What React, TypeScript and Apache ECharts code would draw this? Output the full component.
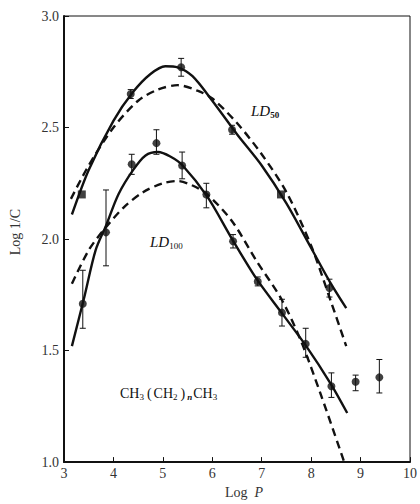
import React, { useEffect, useRef } from "react";
import * as echarts from "echarts";

// LD50 observed points [logP, log1/C]
const ld50Dots: number[][] = [[4.35, 2.65], [5.37, 2.77], [6.40, 2.49], [8.37, 1.78]];
const ld50Squares: number[][] = [[3.36, 2.20], [7.39, 2.20]];
// error bars [logP, low, high]
const ld50Err: number[][] = [[4.35, 2.63, 2.67], [5.37, 2.73, 2.81], [6.40, 2.47, 2.51], [8.37, 1.74, 1.82]];

// LD100 observed points
const ld100Dots: number[][] = [
  [3.38, 1.71], [3.85, 2.03], [4.37, 2.335], [4.87, 2.43], [5.39, 2.33], [5.88, 2.20],
  [6.42, 1.99], [6.92, 1.81], [7.41, 1.67], [7.89, 1.53], [8.41, 1.34], [8.90, 1.36], [9.38, 1.38],
];
const ld100Err: number[][] = [
  [3.38, 1.60, 1.86], [3.85, 1.88, 2.22], [4.37, 2.29, 2.38], [4.87, 2.38, 2.49], [5.39, 2.27, 2.39],
  [5.88, 2.14, 2.25], [6.42, 1.96, 2.02], [6.92, 1.79, 1.83], [7.41, 1.61, 1.73], [7.89, 1.47, 1.60],
  [8.41, 1.29, 1.40], [8.90, 1.32, 1.39], [9.38, 1.31, 1.46],
];

// fitted curves
const ld50Solid: number[][] = [
  [3.16, 2.11], [3.5, 2.31], [4.0, 2.53], [4.4, 2.66], [4.75, 2.74], [5.05, 2.775], [5.3, 2.77],
  [5.6, 2.73], [6.0, 2.62], [6.5, 2.47], [7.0, 2.33], [7.5, 2.16], [8.0, 1.96], [8.4, 1.80], [8.71, 1.69],
];
const ld50Dashed: number[][] = [
  [3.14, 2.18], [3.5, 2.33], [4.0, 2.50], [4.5, 2.62], [4.9, 2.67], [5.3, 2.69], [5.7, 2.665],
  [6.0, 2.63], [6.5, 2.52], [7.0, 2.38], [7.5, 2.21], [8.0, 1.97], [8.4, 1.72], [8.71, 1.52],
];
const ld100Solid: number[][] = [
  [3.16, 1.52], [3.4, 1.73], [3.64, 1.95], [3.85, 2.06], [4.1, 2.20], [4.4, 2.31], [4.65, 2.375],
  [4.9, 2.39], [5.15, 2.37], [5.4, 2.33], [5.9, 2.19], [6.4, 2.00], [6.9, 1.82], [7.4, 1.67],
  [7.9, 1.52], [8.4, 1.35], [8.73, 1.22],
];
const ld100Dashed: number[][] = [
  [3.16, 1.80], [3.5, 1.95], [3.8, 2.04], [4.2, 2.14], [4.6, 2.21], [5.0, 2.25], [5.3, 2.26],
  [5.6, 2.24], [5.9, 2.20], [6.4, 2.08], [6.9, 1.90], [7.4, 1.73], [7.8, 1.54], [8.2, 1.30], [8.67, 1.0],
];

const xTicks = [3, 4, 5, 6, 7, 8, 9, 10];
const yTicks = [1.0, 1.5, 2.0, 2.5, 3.0];

const INK = "#111";
const FONT = "'Liberation Serif', 'DejaVu Serif', serif";

function errSeries(data: number[][]) {
  return {
    type: "custom",
    data,
    z: 3,
    renderItem: (params: any, api: any) => {
      const x = api.value(0);
      const lo = api.coord([x, api.value(1)]);
      const hi = api.coord([x, api.value(2)]);
      const cap = 3;
      const style = { stroke: INK, lineWidth: 1 };
      return {
        type: "group",
        children: [
          { type: "line", shape: { x1: lo[0], y1: lo[1], x2: hi[0], y2: hi[1] }, style },
          { type: "line", shape: { x1: lo[0] - cap, y1: lo[1], x2: lo[0] + cap, y2: lo[1] }, style },
          { type: "line", shape: { x1: hi[0] - cap, y1: hi[1], x2: hi[0] + cap, y2: hi[1] }, style },
        ],
      };
    },
  };
}

function curve(data: number[][], dashed: boolean) {
  return {
    type: "line",
    data,
    smooth: 0.3,
    showSymbol: false,
    z: 2,
    lineStyle: { color: INK, width: 2.4, type: dashed ? [8, 5] : "solid" },
  };
}

export default function App() {
  const ref = useRef<HTMLDivElement>(null);
  useEffect(() => {
    if (!ref.current) return;
    const chart = echarts.init(ref.current, undefined, { renderer: "svg" });
    chart.setOption({
      animation: false,
      backgroundColor: "#fff",
      grid: { left: 60, right: 9, top: 16, bottom: 34, show: true, borderColor: INK, borderWidth: 1 },
      xAxis: {
        type: "value",
        min: xTicks[0],
        max: xTicks[xTicks.length - 1],
        interval: 1,
        splitLine: { show: false },
        axisLine: { lineStyle: { color: INK, width: 2 } },
        axisTick: { inside: true, length: 5, lineStyle: { color: INK } },
        axisLabel: { color: "#333", fontFamily: FONT, fontSize: 14, margin: 4 },
        name: "{a|Log}  {b|P}",
        nameLocation: "middle",
        nameGap: 22,
        nameTextStyle: {
          color: "#333",
          fontFamily: FONT,
          fontSize: 14,
          padding: [0, 0, 0, 14],
          rich: {
            a: { fontFamily: FONT, fontSize: 14, color: "#333" },
            b: { fontFamily: FONT, fontSize: 14, fontStyle: "italic", color: "#333" },
          },
        },
      },
      yAxis: {
        type: "value",
        min: yTicks[0],
        max: yTicks[yTicks.length - 1],
        interval: 0.5,
        splitLine: { show: false },
        axisLine: { lineStyle: { color: INK, width: 2 } },
        axisTick: { inside: true, length: 5, lineStyle: { color: INK } },
        axisLabel: { color: "#333", fontFamily: FONT, fontSize: 14, margin: 5, formatter: (v: number) => v.toFixed(1) },
        name: "Log 1/C",
        nameLocation: "middle",
        nameGap: 42,
        nameRotate: 90,
        nameTextStyle: { color: "#333", fontFamily: FONT, fontSize: 14, padding: [0, 0, 0, 14] },
      },
      series: [
        curve(ld50Solid, false),
        curve(ld50Dashed, true),
        curve(ld100Solid, false),
        curve(ld100Dashed, true),
        errSeries(ld50Err),
        errSeries(ld100Err),
        { type: "scatter", data: ld50Dots, symbol: "circle", symbolSize: 8, itemStyle: { color: INK }, z: 4 },
        { type: "scatter", data: ld100Dots, symbol: "circle", symbolSize: 8, itemStyle: { color: INK }, z: 4 },
        { type: "scatter", data: ld50Squares, symbol: "rect", symbolSize: 8, itemStyle: { color: INK }, z: 4 },
      ],
      graphic: [
        {
          type: "text",
          left: 251,
          top: 103,
          style: {
            text: "{m|LD}{s|50}",
            rich: {
              m: { fontFamily: FONT, fontStyle: "italic", fontSize: 15, fill: INK },
              s: { fontFamily: FONT, fontSize: 9, fontWeight: "bold", fill: INK, padding: [8, 0, 0, 0] },
            },
          },
        },
        {
          type: "text",
          left: 150,
          top: 234,
          style: {
            text: "{m|LD}{s|100}",
            rich: {
              m: { fontFamily: FONT, fontStyle: "italic", fontSize: 15, fill: INK },
              s: { fontFamily: FONT, fontSize: 9, fill: INK, padding: [8, 0, 0, 0] },
            },
          },
        },
        {
          type: "text",
          left: 120,
          top: 386,
          style: {
            text: "{m|CH}{s|3}{p|(}{m|CH}{s|2}{p|)}{i|n}{m|CH}{s|3}",
            rich: {
              m: { fontFamily: FONT, fontSize: 14, fill: INK },
              p: { fontFamily: FONT, fontSize: 14, fill: INK, padding: [0, 2, 0, 2] },
              s: { fontFamily: FONT, fontSize: 9, fill: INK, padding: [7, 1, 0, 0] },
              i: { fontFamily: FONT, fontStyle: "italic", fontWeight: "bold", fontSize: 9, fill: INK, padding: [7, 1, 0, 0] },
            },
          },
        },
      ],
    });
    return () => chart.dispose();
  }, []);
  return <div ref={ref} style={{ width: 420, height: 504, position: "absolute", left: 0, top: 0 }} />;
}
